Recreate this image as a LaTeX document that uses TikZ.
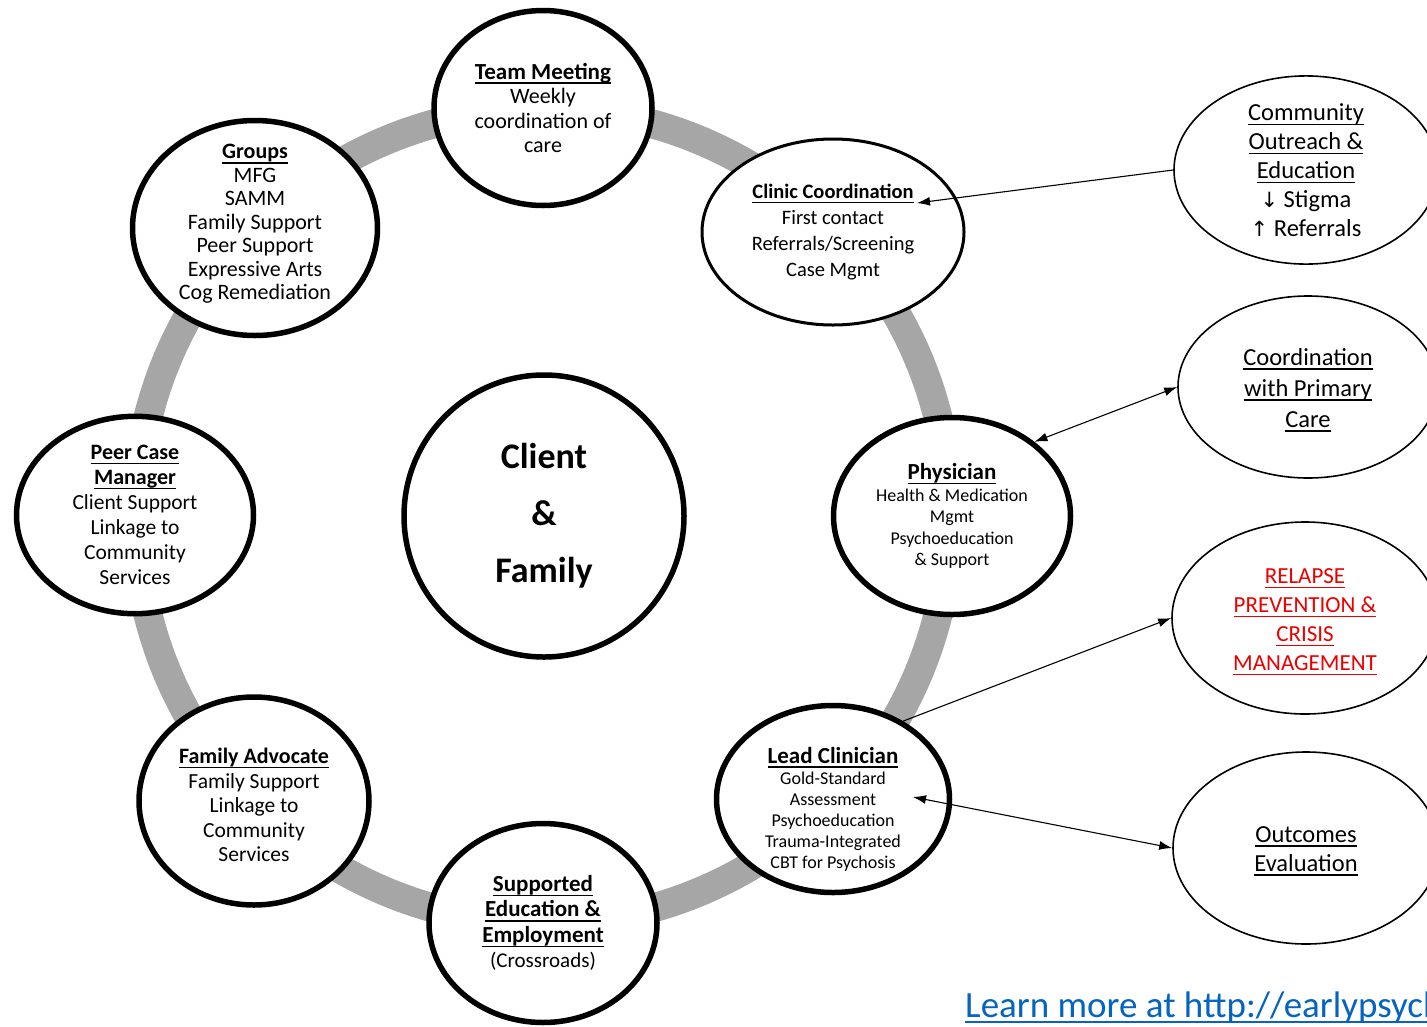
\documentclass[tikz,border=0pt]{standalone}
\usepackage{fontspec}
\setmainfont{Carlito}
\newfontfamily\symf{DejaVu Sans}
\usetikzlibrary{shapes.geometric,arrows.meta}
\newsavebox\ulbox
\newcommand\uln[1]{\leavevmode\sbox\ulbox{#1}\rlap{\rule[-4.8pt]{\wd\ulbox}{1.6pt}}\usebox\ulbox}
\newcommand\ulnb[1]{\leavevmode\sbox\ulbox{#1}\rlap{\rule[-6pt]{\wd\ulbox}{2pt}}\usebox\ulbox}
\newcommand\hdl[1]{\uln{\textbf{#1}}}
\newcommand\hdz[2]{{\fontsize{#1}{#1}\selectfont\hdl{#2}}}
\definecolor{ringgray}{RGB}{166,166,166}
\definecolor{linkblue}{RGB}{5,99,193}
\definecolor{relred}{RGB}{235,0,0}
\begin{document}
\begin{tikzpicture}[x=1pt,y=-1pt,
  role/.style={ellipse, draw=black, line width=5.5pt, fill=white, inner sep=0pt, align=center, text=black},
  ext/.style={ellipse, draw=black, line width=1.6pt, fill=white, inner sep=0pt, align=center},
  txt/.style={inner sep=0pt, align=center, text=black},
  conn/.style={line width=1.1pt, -{Latex[length=13pt,width=9pt]}},
  conn2/.style={line width=1.1pt, {Latex[length=13pt,width=9pt]}-{Latex[length=13pt,width=9pt]}},
  ring/.style={line width=29pt, draw=ringgray}]
\useasboundingbox (0,0) rectangle (1427,1026);
\clip (0,0) rectangle (1427,1026);

% ring
\coordinate (rc) at (543,516);
\draw[ring] (rc) circle[radius=407];

% team roles
\node[role, minimum width=218pt, minimum height=195pt,
  font=\fontsize{22}{24.5}\selectfont] (team) at (543,108)
  {\hdz{23}{Team Meeting}\\Weekly\\coordination of\\care};

\node[role, minimum width=245pt, minimum height=215pt] (groups) at (255,228) {};
\node[txt, font=\fontsize{22}{23.5}\selectfont] (groupst) at (255,224)
  {\hdl{Groups}\\MFG\\SAMM\\Family Support\\Peer Support\\Expressive Arts\\Cog Remediation};

\node[role, line width=3pt, minimum width=262pt, minimum height=186pt,
  font=\fontsize{20.5}{26}\selectfont] (clinic) at (833,232)
  {\hdl{Clinic Coordination}\\First contact\\Referrals/Screening\\Case Mgmt};

\node[role, minimum width=237pt, minimum height=197pt,
  font=\fontsize{18}{21.5}\selectfont] (phys) at (952,516)
  {\hdz{23}{Physician}\\Health \& Medication\\Mgmt\\Psychoeducation\\\& Support};

\node[role, minimum width=237pt, minimum height=195pt,
  font=\fontsize{21.5}{25}\selectfont] (peer) at (135,515)
  {\hdz{22}{Peer Case}\\\hdz{22}{Manager}\\Client Support\\Linkage to\\Community\\Services};

\node[role, minimum width=280pt, minimum height=282pt,
  font=\fontsize{36}{57}\selectfont\bfseries] (client) at (544,516)
  {Client\\\&\\Family};

\node[role, minimum width=230pt, minimum height=208pt] (famadv) at (254,801) {};
\node[txt, font=\fontsize{21.5}{24.5}\selectfont] (famadvt) at (254,805)
  {\hdz{22}{Family Advocate}\\Family Support\\Linkage to\\Community\\Services};

\node[role, minimum width=228pt, minimum height=199pt,
  font=\fontsize{21}{25.5}\selectfont] (supp) at (543,923)
  {\hdz{23}{Supported}\\\hdz{23}{Education \&}\\\hdz{23}{Employment}\\(Crossroads)};

\node[role, minimum width=233pt, minimum height=187pt] (lead) at (833,799) {};
\node[txt, font=\fontsize{18}{21}\selectfont] (leadt) at (833,809)
  {\hdz{23}{Lead Clinician}\\Gold-Standard\\Assessment\\Psychoeducation\\Trauma-Integrated\\CBT for Psychosis};

% external ellipses
\node[ext, minimum width=264pt, minimum height=182pt,
  font=\fontsize{24.5}{29}\selectfont] (comm) at (1306,170)
  {\uln{Community}\\\uln{Outreach \&}\\\uln{Education}\\{\symf\fontsize{21}{29}\selectfont ↓} Stigma\\{\symf\fontsize{21}{29}\selectfont ↑} Referrals};

\node[ext, minimum width=260pt, minimum height=182pt] (prim) at (1308,387) {};
\node[txt, font=\fontsize{24.5}{31}\selectfont] (primt) at (1308,390)
  {\uln{Coordination}\\\uln{with Primary}\\\uln{Care}};

\node[ext, minimum width=266pt, minimum height=192pt] (relapse) at (1305,618) {};
\node[txt, text=relred, font=\fontsize{23}{29}\selectfont] (relapset) at (1305,622)
  {\uln{RELAPSE}\\\uln{PREVENTION \&}\\\uln{CRISIS}\\\uln{MANAGEMENT}};

\node[ext, minimum width=266pt, minimum height=192pt] (outc) at (1306,848) {};
\node[txt, font=\fontsize{24.5}{29}\selectfont] (outct) at (1306,851)
  {\uln{Outcomes}\\\uln{Evaluation}};

% link
\node[anchor=base west, inner sep=0pt, text=linkblue,
  font=\fontsize{37}{40}\selectfont] (link) at (965,1017)
  {\ulnb{Learn more at http://earlypsychosis.ucdavis.edu}};

% connectors
\coordinate (cctip) at (917,203);
\coordinate (lctip) at (913,797);
\draw[conn] (comm.west) -- (cctip);
\draw[conn2] (phys.42) -- (prim.west);
\draw[conn] (lead.48) -- (relapse.west);
\draw[conn2] (lctip) -- (outc.west);
\end{tikzpicture}
\end{document}
